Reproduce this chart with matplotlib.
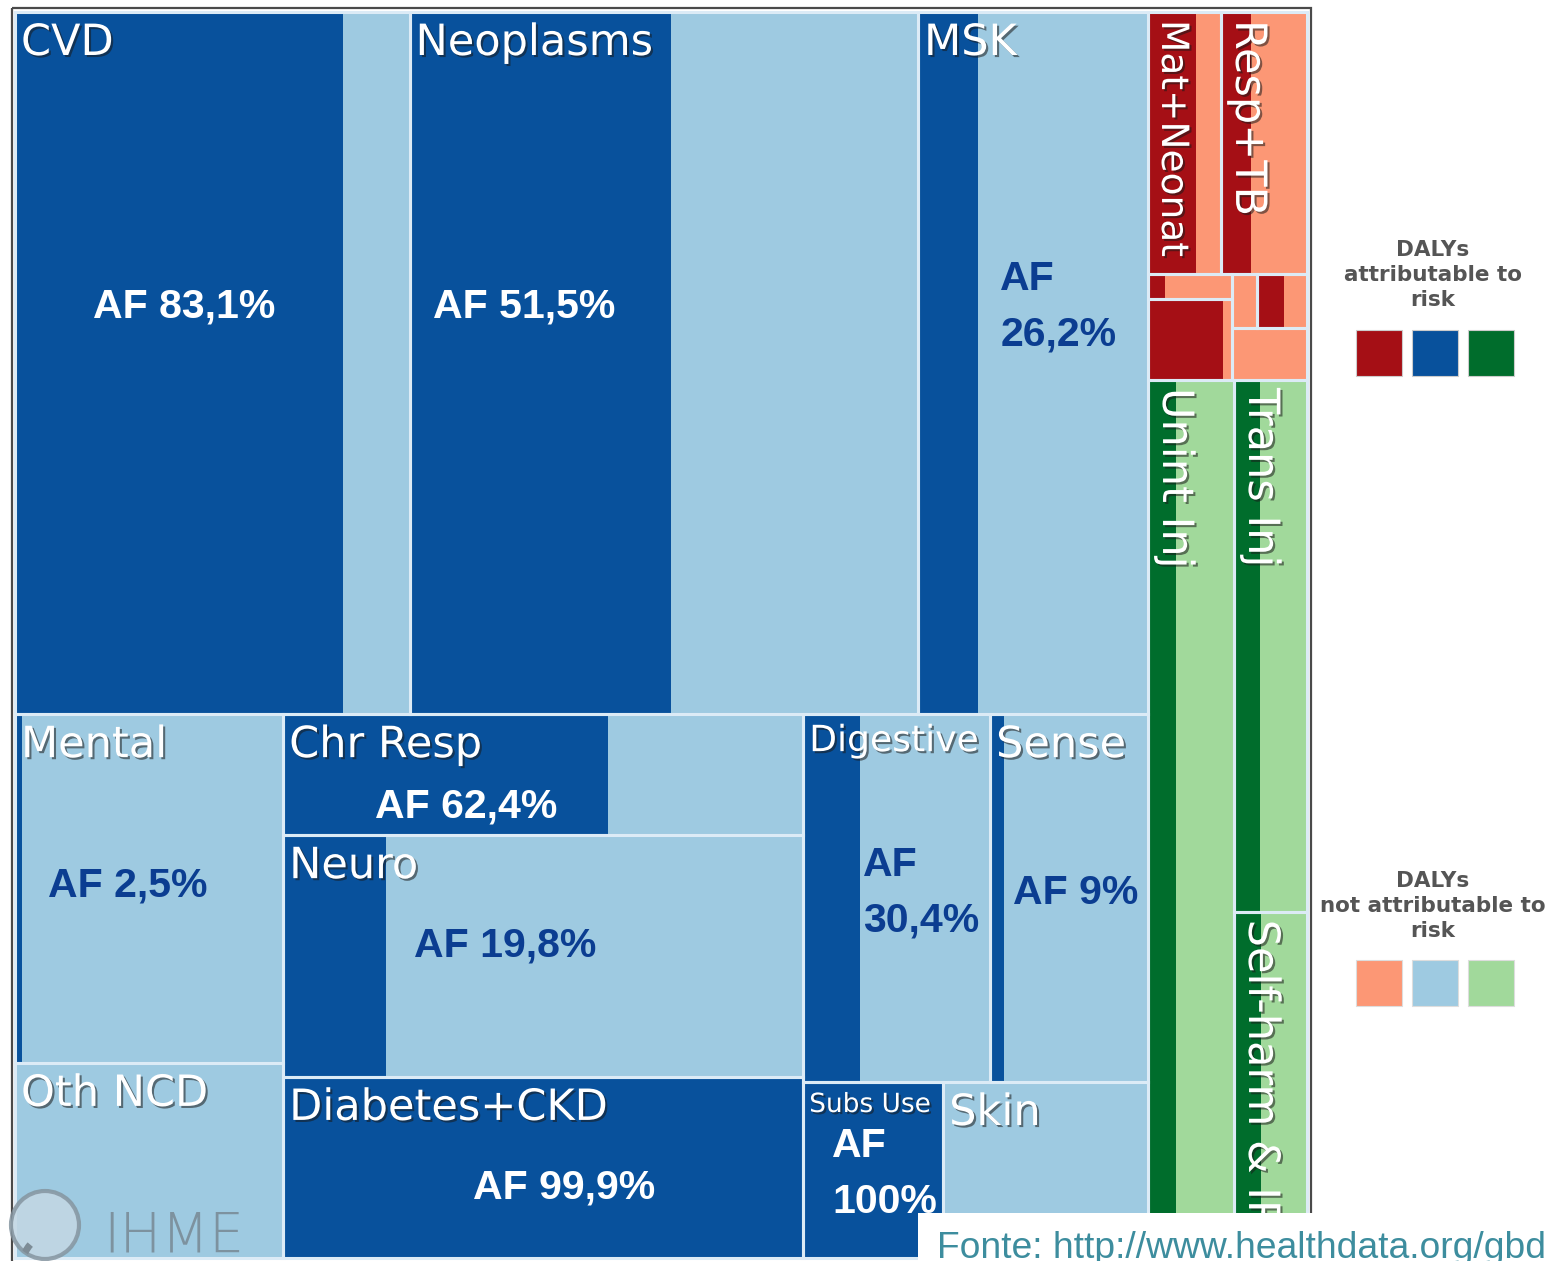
import matplotlib
matplotlib.use("Agg")
import matplotlib.pyplot as plt
import matplotlib.patheffects as pe
from matplotlib import font_manager
from matplotlib.patches import Rectangle, Circle, Arc

# -----------------------------------------------------------------------------
# Data: share of all DALYs (%) per cause and fraction attributable to risk (%)
# -----------------------------------------------------------------------------
TOP_NAMES = ["CVD", "Neoplasms", "MSK"]
TOP_DALY = [17.21, 22.18, 10.03]
TOP_AF = [83.1, 51.5, 26.2]

COL1_NAMES = ["Mental", "Oth NCD"]
COL1_DALY = [5.81, 3.25]
COL1_AF = [2.5, 0.0]

COL2_NAMES = ["Chr Resp", "Neuro", "Diabetes+CKD"]
COL2_DALY = [3.91, 7.81, 5.85]
COL2_AF = [62.4, 19.8, 99.9]

COL3A_NAMES = ["Digestive", "Sense"]
COL3A_DALY = [4.27, 3.61]
COL3A_AF = [30.4, 9.0]

COL3B_NAMES = ["Subs Use", "Skin"]
COL3B_DALY = [1.53, 2.24]
COL3B_AF = [100.0, 0.0]

COMM_TOP_NAMES = ["Mat+Neonat", "Resp+TB"]
COMM_TOP_DALY = [1.19, 1.40]
COMM_TOP_AF = [65.0, 35.0]

COMM_LEFT_NAMES = ["Enteric", "Nutrition"]          # not labelled in the chart
COMM_LEFT_DALY = [0.13, 0.42]
COMM_LEFT_AF = [20.0, 90.0]

COMM_RIGHT_NAMES = ["HIV/AIDS", "NTD+Malaria", "Oth Comm"]   # not labelled
COMM_RIGHT_DALY = [0.084, 0.168, 0.242]
COMM_RIGHT_AF = [0.0, 55.0, 0.0]

INJ_NAMES = ["Unint Inj", "Trans Inj", "Self-harm & IPV"]
INJ_DALY = [4.69, 2.41, 1.57]
INJ_AF = [33.0, 35.0, 37.0]

# -----------------------------------------------------------------------------
# Style
# -----------------------------------------------------------------------------
W, H = 1552, 1261
BLUE_D, BLUE_L = "#08519c", "#9ecae1"
RED_D, RED_L = "#a50f15", "#fc9775"
GREEN_D, GREEN_L = "#006d2c", "#a1d99b"
SEP = "#dcebf6"
AF_DARK_TXT = "#0b3d91"
PX = 0.72  # points per pixel at dpi 100

names = {f.name for f in font_manager.fontManager.ttflist}
if "Liberation Sans Narrow" in names:
    AF_FONT, AF_SIZE, AF_LS = "Liberation Sans Narrow", 50 * PX, 1.3
else:
    AF_FONT, AF_SIZE, AF_LS = "Liberation Sans", 41 * PX, 1.6

LABEL_SIZE = {"Digestive": 26, "Subs Use": 19, "Mat+Neonat": 27}
ROTATED = {"Mat+Neonat", "Resp+TB", "Unint Inj", "Trans Inj", "Self-harm & IPV"}
UNLABELLED = set(COMM_LEFT_NAMES) | set(COMM_RIGHT_NAMES)

# AF label anchor inside its cell: (fraction x, fraction y, ha, colour)
AF_LABEL = {
    "CVD": (0.43, 0.42, "center", "white"),
    "Neoplasms": (0.226, 0.42, "center", "white"),
    "MSK": (0.357, 0.42, "left", AF_DARK_TXT),
    "Mental": (0.42, 0.49, "center", AF_DARK_TXT),
    "Chr Resp": (0.352, 0.76, "center", "white"),
    "Neuro": (0.427, 0.455, "center", AF_DARK_TXT),
    "Diabetes+CKD": (0.54, 0.61, "center", "white"),
    "Digestive": (0.32, 0.485, "left", AF_DARK_TXT),
    "Sense": (0.54, 0.487, "center", AF_DARK_TXT),
    "Subs Use": (0.207, 0.52, "left", "white"),
}
TWO_LINE = {"MSK", "Digestive", "Subs Use"}


def slice_box(box, weights, horizontal):
    x0, y0, x1, y1 = box
    tot = sum(weights)
    out, acc = [], 0.0
    for w in weights:
        a, b = acc / tot, (acc + w) / tot
        acc += w
        if horizontal:
            out.append((x0 + a * (x1 - x0), y0, x0 + b * (x1 - x0), y1))
        else:
            out.append((x0, y0 + a * (y1 - y0), x1, y0 + b * (y1 - y0)))
    return out


def fmt_af(v):
    if float(v).is_integer():
        return f"{int(v)}%"
    return f"{v:.1f}%".replace(".", ",")


# -----------------------------------------------------------------------------
# Treemap layout (slice and dice)
# -----------------------------------------------------------------------------
area = (15, 12, 1307, 1258)
ncd_groups = [TOP_DALY, COL1_DALY, COL2_DALY, COL3A_DALY + COL3B_DALY]
comm_all = COMM_TOP_DALY + COMM_LEFT_DALY + COMM_RIGHT_DALY
ncd_box, right_box = slice_box(area, [sum(sum(g) for g in ncd_groups),
                                      sum(comm_all) + sum(INJ_DALY)], True)

cells = []  # (name, box, af, dark, light)


def add(names_, boxes, afs, dark, light):
    for n, b, a in zip(names_, boxes, afs):
        cells.append((n, b, a, dark, light))


top_box, bottom_box = slice_box(ncd_box, [sum(TOP_DALY),
                                          sum(COL1_DALY) + sum(COL2_DALY) + sum(COL3A_DALY) + sum(COL3B_DALY)], False)
add(TOP_NAMES, slice_box(top_box, TOP_DALY, True), TOP_AF, BLUE_D, BLUE_L)
c1, c2, c3 = slice_box(bottom_box, [sum(COL1_DALY), sum(COL2_DALY),
                                    sum(COL3A_DALY) + sum(COL3B_DALY)], True)
add(COL1_NAMES, slice_box(c1, COL1_DALY, False), COL1_AF, BLUE_D, BLUE_L)
add(COL2_NAMES, slice_box(c2, COL2_DALY, False), COL2_AF, BLUE_D, BLUE_L)
r1, r2 = slice_box(c3, [sum(COL3A_DALY), sum(COL3B_DALY)], False)
add(COL3A_NAMES, slice_box(r1, COL3A_DALY, True), COL3A_AF, BLUE_D, BLUE_L)
add(COL3B_NAMES, slice_box(r2, COL3B_DALY, True), COL3B_AF, BLUE_D, BLUE_L)

comm_box, inj_box = slice_box(right_box, [sum(comm_all), sum(INJ_DALY)], False)
ct, cb = slice_box(comm_box, [sum(COMM_TOP_DALY),
                              sum(COMM_LEFT_DALY) + sum(COMM_RIGHT_DALY)], False)
add(COMM_TOP_NAMES, slice_box(ct, COMM_TOP_DALY, True), COMM_TOP_AF, RED_D, RED_L)
cl, cr = slice_box(cb, [sum(COMM_LEFT_DALY), sum(COMM_RIGHT_DALY)], True)
add(COMM_LEFT_NAMES, slice_box(cl, COMM_LEFT_DALY, False), COMM_LEFT_AF, RED_D, RED_L)
crt, crb = slice_box(cr, [sum(COMM_RIGHT_DALY[:2]), COMM_RIGHT_DALY[2]], False)
add(COMM_RIGHT_NAMES[:2], slice_box(crt, COMM_RIGHT_DALY[:2], True), COMM_RIGHT_AF[:2], RED_D, RED_L)
add(COMM_RIGHT_NAMES[2:], [crb], COMM_RIGHT_AF[2:], RED_D, RED_L)

il, ir = slice_box(inj_box, [INJ_DALY[0], sum(INJ_DALY[1:])], True)
add(INJ_NAMES[:1], [il], INJ_AF[:1], GREEN_D, GREEN_L)
add(INJ_NAMES[1:], slice_box(ir, INJ_DALY[1:], False), INJ_AF[1:], GREEN_D, GREEN_L)

# -----------------------------------------------------------------------------
# Drawing
# -----------------------------------------------------------------------------
fig = plt.figure(figsize=(W / 100, H / 100), dpi=100)
fig.patch.set_facecolor("white")
ax = fig.add_axes([0, 0, 1, 1])
ax.set_xlim(0, W)
ax.set_ylim(H, 0)
ax.axis("off")

shadow = [pe.withSimplePatchShadow(offset=(1.5, -1.5), shadow_rgbFace="#1a1a1a", alpha=0.55)]

for name, (x0, y0, x1, y1), af, dark, light in cells:
    w, h = x1 - x0, y1 - y0
    ax.add_patch(Rectangle((x0, y0), w, h, facecolor=light, edgecolor="none", zorder=1))
    ax.add_patch(Rectangle((x0, y0), w * af / 100, h, facecolor=dark, edgecolor="none", zorder=2))
    ax.add_patch(Rectangle((x0, y0), w, h, fill=False, edgecolor=SEP, lw=2.2, zorder=3))

    if name in UNLABELLED:
        continue
    size = LABEL_SIZE.get(name, 31)
    if name in ROTATED:
        ax.text(x0 + 6, y0 + 8, name, rotation=270, ha="left", va="top",
                fontsize=size, color="white", path_effects=shadow, zorder=5)
    else:
        ax.text(x0 + 6, y0 + 10, name, ha="left", va="top",
                fontsize=size, color="white", path_effects=shadow, zorder=5)

    if name in AF_LABEL:
        fx, fy, ha, col = AF_LABEL[name]
        sep = "\n" if name in TWO_LINE else " "
        ax.text(x0 + fx * w, y0 + fy * h, f"AF{sep}{fmt_af(af)}", ha=ha, va="center",
                fontsize=AF_SIZE, fontweight="bold", family=AF_FONT, color=col,
                linespacing=AF_LS, zorder=5)

# outer frame
ax.add_patch(Rectangle((12, 8), 1299, 1290, fill=False, edgecolor="#4a4a4a", lw=1.6, zorder=6))

# IHME logo
logo = Circle((45, 1225), 34, facecolor="#c4d8e4", edgecolor="#8595a0", lw=3, alpha=0.85, zorder=6)
ax.add_patch(logo)
for cx, cy, ww, hh, lw in [(78, 1262, 110, 70, 5), (86, 1278, 120, 70, 4), (60, 1290, 120, 70, 3)]:
    wave = Arc((cx, cy), ww, hh, theta1=90, theta2=200, color="#7d8c96", lw=lw, zorder=7)
    ax.add_patch(wave)
    wave.set_clip_path(logo)
ax.text(103, 1252, "IHME", ha="left", va="baseline", fontsize=40, color="#7a8c98",
        fontweight=200, alpha=0.9, zorder=7)

# legends
leg_txt = dict(ha="center", va="center", fontsize=15.5, fontweight="bold",
               color="#555555", linespacing=1.3)
ax.text(1433, 275, "DALYs\nattributable to\nrisk", **leg_txt)
ax.text(1433, 906, "DALYs\nnot attributable to\nrisk", **leg_txt)
for i, (cd, cl_) in enumerate([(RED_D, RED_L), (BLUE_D, BLUE_L), (GREEN_D, GREEN_L)]):
    x = 1356 + i * 56
    ax.add_patch(Rectangle((x, 330), 46, 46, facecolor=cd, edgecolor="#cccccc", lw=0.8))
    ax.add_patch(Rectangle((x, 960), 46, 46, facecolor=cl_, edgecolor="#dddddd", lw=0.8))

# source box
ax.add_patch(Rectangle((918, 1213), 640, 60, facecolor="white", edgecolor="none", zorder=8))
ax.text(937, 1258, "Fonte: http://www.healthdata.org/gbd", ha="left", va="baseline",
        fontsize=26.8, family="Liberation Sans", color="#3d8d9e", zorder=9)

fig.savefig("out.png", dpi=100, facecolor="white")
